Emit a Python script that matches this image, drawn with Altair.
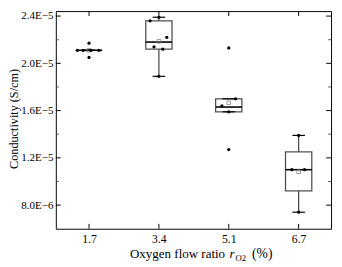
import json
import altair as alt
import numpy as np
import pandas as pd

# ---------------- data ----------------
cats = ["1.7", "3.4", "5.1", "6.7"]

pts_17 = [2.17e-5, 2.11e-5, 2.11e-5, 2.11e-5, 2.11e-5, 2.05e-5]
pts_34 = [2.39e-5, 2.36e-5, 2.22e-5, 2.14e-5, 2.12e-5, 1.89e-5]
pts_51 = [2.13e-5, 1.70e-5, 1.64e-5, 1.59e-5, 1.27e-5]
pts_67 = [1.39e-5, 1.10e-5, 1.10e-5, 7.4e-6]

# horizontal scatter of the dots (fraction of category spacing)
jit_17 = [0.0, -0.167, -0.084, 0.028, 0.14, 0.0]
jit_34 = [0.0, -0.126, 0.112, -0.07, 0.056, 0.0]
jit_51 = [0.0, 0.098, -0.098, 0.0, 0.0]
jit_67 = [0.0, -0.098, 0.084, 0.0]

q1 = [2.11e-5, 2.12e-5, 1.59e-5, 9.2e-6]
median = [2.11e-5, 2.18e-5, 1.63e-5, 1.10e-5]
q3 = [2.11e-5, 2.36e-5, 1.70e-5, 1.25e-5]
whisk_lo = [2.11e-5, 1.89e-5, 1.59e-5, 7.4e-6]
whisk_hi = [2.11e-5, 2.39e-5, 1.70e-5, 1.39e-5]

y_major = [8e-6, 1.2e-5, 1.6e-5, 2.0e-5, 2.4e-5]
y_minor = [1.0e-5, 1.4e-5, 1.8e-5, 2.2e-5]

# ---------------- tables ----------------
all_pts = [pts_17, pts_34, pts_51, pts_67]
all_jit = [jit_17, jit_34, jit_51, jit_67]
rows = []
for i, (vals, jits) in enumerate(zip(all_pts, all_jit)):
    for v, j in zip(vals, jits):
        rows.append({"idx": i + 1, "value": v, "jit": j})
pts_df = pd.DataFrame(rows)

stats_df = pd.DataFrame({
    "idx": list(range(1, len(cats) + 1)),
    "q1": q1, "median": median, "q3": q3,
    "wlo": whisk_lo, "whi": whisk_hi,
    "mean": [float(np.mean(p)) for p in all_pts],
})

W, H = 282, 223
FONT = "Liberation Serif"
HALF_BOX = 0.188
HALF_CAP = 0.09

xscale = alt.Scale(domain=[0.525, 4.464], nice=False, zero=False)
yscale = alt.Scale(domain=[6e-6, 2.442e-5], nice=False, zero=False)

x_axis = alt.Axis(values=[1, 2, 3, 4], labelExpr=f"{json.dumps(cats)}[datum.value-1]",
                  ticks=False, domain=False, grid=False, labelPadding=5,
                  labelFont=FONT, labelFontSize=12, labelColor="black", title=None)
y_axis = alt.Axis(values=y_major,
                  labelExpr="replace(upper(format(datum.value, '.1e')), '-', '\u2212')",
                  ticks=False, domain=False, grid=False, labelPadding=3,
                  labelFont=FONT, labelFontSize=11.3, labelColor="black",
                  title="Conductivity (S/cm)", titleFont=FONT, titleFontSize=12.5,
                  titleFontWeight="normal", titleColor="black",
                  titleX=-36, titleY=110)


def X(field):
    return alt.X(field, scale=xscale, axis=x_axis)


def Y(field):
    return alt.Y(field, scale=yscale, axis=y_axis)


base_stats = alt.Chart(stats_df).transform_calculate(
    xl=f"datum.idx - {HALF_BOX}", xr=f"datum.idx + {HALF_BOX}",
    cl=f"datum.idx - {HALF_CAP}", cr=f"datum.idx + {HALF_CAP}",
)

box = base_stats.mark_rect(fill="white", stroke="#505050", strokeWidth=1.3).encode(
    x=X("xl:Q"), x2="xr:Q", y=Y("q1:Q"), y2="q3:Q")
wh_up = base_stats.mark_rule(color="#404040", strokeWidth=1.2).encode(
    x=X("idx:Q"), y=Y("q3:Q"), y2="whi:Q")
wh_dn = base_stats.mark_rule(color="#404040", strokeWidth=1.2).encode(
    x=X("idx:Q"), y=Y("wlo:Q"), y2="q1:Q")
cap_up = base_stats.mark_rule(color="black", strokeWidth=1.2).encode(
    x=X("cl:Q"), x2="cr:Q", y=Y("whi:Q"))
cap_dn = base_stats.mark_rule(color="black", strokeWidth=1.2).encode(
    x=X("cl:Q"), x2="cr:Q", y=Y("wlo:Q"))
med = base_stats.mark_rule(color="black", strokeWidth=1.6).encode(
    x=X("xl:Q"), x2="xr:Q", y=Y("median:Q"))
mean_pt = base_stats.mark_point(shape="square", filled=False, size=14,
                                color="#808080", strokeWidth=0.8, opacity=1).encode(
    x=X("idx:Q"), y=Y("mean:Q"))

dots = alt.Chart(pts_df).transform_calculate(xp="datum.idx + datum.jit").mark_circle(
    size=11, color="black", opacity=1).encode(x=X("xp:Q"), y=Y("value:Q"))

# inward ticks
ymaj_df = pd.DataFrame({"v": y_major})
ymin_df = pd.DataFrame({"v": y_minor})
xt_df = pd.DataFrame({"idx": list(range(1, len(cats) + 1))})


def ytick(df, x0, x1, color):
    return alt.Chart(df).mark_rule(color=color, strokeWidth=1).encode(
        y=Y("v:Q"), x=alt.value(x0), x2=alt.value(x1))


def xtick(y0, y1):
    return alt.Chart(xt_df).mark_rule(color="black", strokeWidth=1).encode(
        x=X("idx:Q"), y=alt.value(y0), y2=alt.value(y1))


ticks = [
    ytick(ymaj_df, 0, 5, "black"), ytick(ymin_df, 0, 3, "#555"),
    ytick(ymaj_df, W - 5, W, "black"), ytick(ymin_df, W - 3, W, "#555"),
    xtick(0, 5), xtick(H - 5, H),
]


# x-axis title with italic r and subscript O2
def txt(s, x, y, size, style="normal"):
    return alt.Chart(pd.DataFrame({"t": [s]})).mark_text(
        font=FONT, fontSize=size, fontStyle=style, color="black",
        align="left", baseline="alphabetic").encode(
        text="t:N", x=alt.value(x), y=alt.value(y))


title_parts = [
    txt("Oxygen flow ratio", 76, 253, 13.3),
    txt("r", 178, 253, 13.5, "italic"),
    txt("O2", 184, 256, 9),
    txt("(%)", 201, 253, 14),
]

chart = alt.layer(box, wh_up, wh_dn, cap_up, cap_dn, med, mean_pt, dots,
                  *ticks, *title_parts).properties(
    width=W, height=H,
    autosize=alt.AutoSizeParams(type="none"),
    padding={"left": 49, "top": 0, "right": 3, "bottom": 36},
    background="white",
).configure_view(stroke="black", strokeWidth=1)

chart.save("out.html", embed_options={"renderer": "svg", "actions": False})
